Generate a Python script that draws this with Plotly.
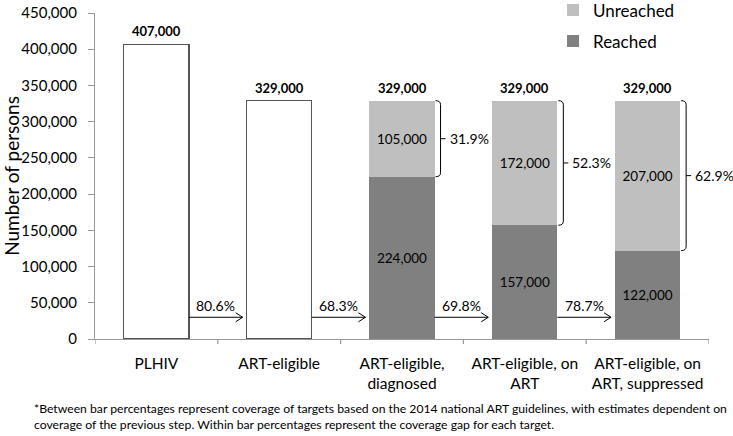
import plotly.graph_objects as go

categories = ["PLHIV", "ART-eligible", "ART-eligible,<br>diagnosed",
              "ART-eligible, on<br>ART", "ART-eligible, on<br>ART, suppressed"]
totals = [407000, 329000, 329000, 329000, 329000]
white_vals = [407000, 329000, None, None, None]
reached = [None, None, 224000, 157000, 122000]
unreached = [None, None, 105000, 172000, 207000]
between_pct = ["80.6%", "68.3%", "69.8%", "78.7%"]
gap_pct = [None, None, "31.9%", "52.3%", "62.9%"]
footnote = ("*Between bar percentages represent coverage of targets based on the 2014 national ART guidelines, "
            "with estimates dependent on<br>coverage of the previous step. Within bar percentages represent "
            "the coverage gap for each target.")

FONT = "Lato"
BW = 0.53
HALF = BW / 2
idx = list(range(len(categories)))

def fmt(v):
    return None if v is None else f"{v:,}"

fig = go.Figure()
fig.add_bar(x=idx, y=white_vals, width=BW, marker=dict(color="white", line=dict(color="#555555", width=1.2)),
            showlegend=False, hoverinfo="skip")
fig.add_bar(x=idx, y=reached, width=BW, name="Reached", legendgroup="r", legendrank=2,
            marker=dict(color="#808080", line=dict(width=0)),
            text=[fmt(v) for v in reached], textposition="inside", insidetextanchor="middle",
            textfont=dict(family=FONT, size=13.5, color="black"))
fig.add_bar(x=idx, y=unreached, width=BW, name="Unreached", legendgroup="u", legendrank=1,
            marker=dict(color="#bfbfbf", line=dict(width=0)),
            text=[fmt(v) for v in unreached], textposition="inside", insidetextanchor="middle",
            textfont=dict(family=FONT, size=13.5, color="black"))

shapes = []
annotations = []
# totals
for i, t in enumerate(totals):
    annotations.append(dict(x=i, y=t, text=f"<b>{t:,}</b>", showarrow=False, yanchor="bottom", yshift=3,
                            font=dict(family=FONT, size=13, color="black")))

# between-bar arrows
ypx = 450000 / 326.0
xpx = 1 / 122.8
arrow_y = 30000
for i, p in enumerate(between_pct):
    x0 = i + HALF
    x1 = i + 1 - HALF - 4 * xpx
    shapes.append(dict(type="line", xref="x", yref="y", x0=x0, x1=x1, y0=arrow_y, y1=arrow_y,
                       line=dict(color="black", width=1)))
    shapes.append(dict(type="path", xref="x", yref="y",
                       path=f"M {x1 - 7*xpx} {arrow_y + 4.5*ypx} L {x1} {arrow_y} L {x1 - 7*xpx} {arrow_y - 4.5*ypx}",
                       line=dict(color="black", width=1)))
    annotations.append(dict(x=(x0 + x1) / 2, y=arrow_y, text=p, showarrow=False, yanchor="bottom", yshift=1,
                            font=dict(family=FONT, size=14, color="black")))

# brackets
for i, p in enumerate(gap_pct):
    if p is None:
        continue
    top = reached[i] + unreached[i]
    bot = reached[i]
    bx = i + HALF + 6 * xpx
    hx = i + HALF + 1 * xpx
    mid = (top + bot) / 2
    path = (f"M {hx} {top} Q {bx} {top} {bx} {top - 4*ypx} L {bx} {bot + 4*ypx} Q {bx} {bot} {hx} {bot}")
    shapes.append(dict(type="path", xref="x", yref="y", path=path, line=dict(color="black", width=1)))
    shapes.append(dict(type="line", xref="x", yref="y", x0=bx, x1=bx + 5 * xpx, y0=mid, y1=mid,
                       line=dict(color="black", width=1)))
    annotations.append(dict(x=bx + 7 * xpx, y=mid, text=p, showarrow=False, xanchor="left",
                            font=dict(family=FONT, size=14, color="black")))

annotations.append(dict(xref="paper", yref="paper", x=-0.102, y=-0.185, xanchor="left", yanchor="top",
                        text=footnote, showarrow=False, align="left",
                        font=dict(family=FONT, size=12.2, color="black")))

for b in [-0.5, 0.5, 1.5, 2.5, 3.5, 4.5]:
    shapes.append(dict(type="line", xref="x", yref="paper", x0=b, x1=b, y0=0, y1=-5/326,
                       line=dict(color="#999999", width=1.2)))

fig.update_layout(
    barmode="stack",
    width=733, height=436,
    margin=dict(l=95, r=24, t=13, b=97, autoexpand=False),
    plot_bgcolor="white", paper_bgcolor="white",
    font=dict(family=FONT, color="black"),
    shapes=shapes, annotations=annotations,
    legend=dict(x=0.746, y=1.063, xanchor="left", yanchor="top", traceorder="grouped",
                tracegroupgap=6, font=dict(family=FONT, size=17), bgcolor="rgba(0,0,0,0)",
                itemwidth=30),
)
fig.update_xaxes(range=[-0.5, 4.5], tickmode="array", tickvals=idx, ticktext=categories,
                 showline=True, linecolor="#999999", linewidth=1.2, ticks="", automargin=False,
                 ticklabelstandoff=10,
                 tickfont=dict(family=FONT, size=15.5), showgrid=False, zeroline=False)
fig.update_yaxes(range=[0, 450000], dtick=50000, tickformat=",", showline=True, linecolor="#999999",
                 linewidth=1.2, ticks="outside", ticklen=6, tickcolor="#999999", showgrid=False,
                 zeroline=False, tickfont=dict(family=FONT, size=15), automargin=False,
                 ticklabelstandoff=8,
                 title=dict(text="Number of persons", font=dict(family=FONT, size=19), standoff=3))

# remove the browser's default 8px body margin so the figure starts at the window corner
fig.write_html("out.html", config={"displayModeBar": False},
               post_script="document.body.style.margin='0px';")
